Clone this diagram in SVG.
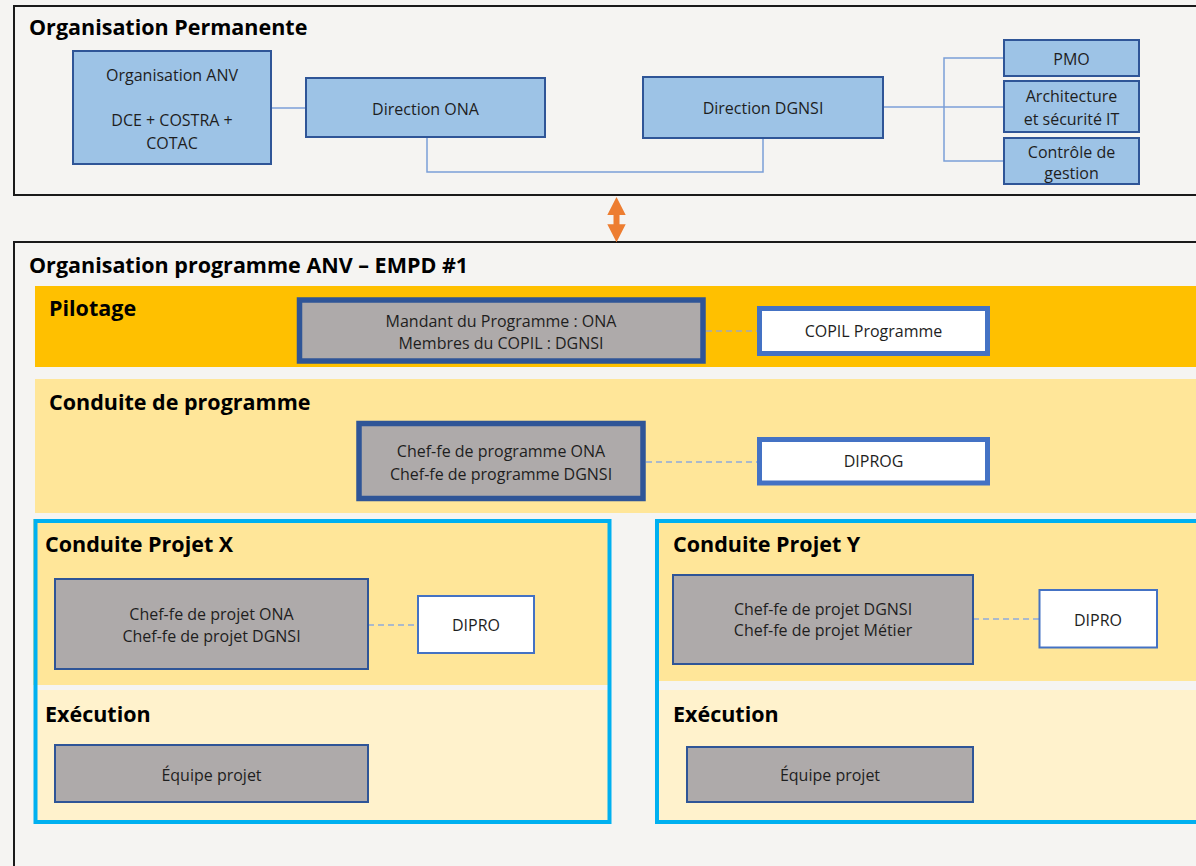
<svg xmlns="http://www.w3.org/2000/svg" width="1196" height="866" viewBox="0 0 1196 866">
<defs>
<style>
.h{font-family:"Open Sans","Liberation Sans",sans-serif;font-weight:bold;font-size:21.5px;fill:#000}
.t{font-family:"Open Sans","Liberation Sans",sans-serif;font-size:16px;fill:#1e1e1e;text-anchor:middle}
.blue{fill:#9dc3e6;stroke:#2f5597;stroke-width:2}
.gray{fill:#aeaaaa;stroke:#2f5597;stroke-width:2}
.grayk{fill:#aeaaaa;stroke:#2f5597;stroke-width:5.5}
.wk{fill:#fff;stroke:#4472c4;stroke-width:5}
.w{fill:#fff;stroke:#4472c4;stroke-width:2}
.frame{fill:none;stroke:#1a1a1a;stroke-width:2}
.cyan{fill:none;stroke:#00b0f0;stroke-width:4}
.ln{fill:none;stroke:#7b9fd8;stroke-width:1.5}
.dash{fill:none;stroke:#8faadc;stroke-width:1.5;stroke-dasharray:6,4}
</style>
</defs>
<rect width="1196" height="866" fill="#f5f4f2"/>

<!-- Section frames and bands -->
<g id="organisation-permanente">
<rect class="frame" x="14" y="6" width="1200" height="189"/>
<text class="h" x="29" y="35">Organisation Permanente</text>
</g>
<g id="organisation-programme">
<rect class="frame" x="14" y="242" width="1200" height="640"/>
<text class="h" x="29" y="273">Organisation programme ANV – EMPD #1</text>
</g>
<g id="pilotage-band">
<rect x="35" y="286" width="1170" height="81" fill="#ffc000"/>
<text class="h" x="49" y="316">Pilotage</text>
</g>
<g id="conduite-programme-band">
<rect x="35" y="379" width="1170" height="134" fill="#ffe699"/>
<text class="h" x="49" y="410">Conduite de programme</text>
</g>
<g id="projet-x">
<rect x="33" y="519" width="578" height="166" fill="#ffe699"/>
<rect x="35" y="690" width="574" height="132" fill="#fff2cc"/>
<rect class="cyan" x="35.5" y="521" width="574" height="301"/>
<text class="h" x="45" y="552">Conduite Projet X</text>
<text class="h" x="45" y="722">Exécution</text>
</g>
<g id="projet-y">
<rect x="655" y="519" width="550" height="162" fill="#ffe699"/>
<rect x="657" y="690" width="548" height="132" fill="#fff2cc"/>
<rect class="cyan" x="657" y="521" width="560" height="301"/>
<text class="h" x="673" y="552">Conduite Projet Y</text>
<text class="h" x="673" y="722">Exécution</text>
</g>

<!-- Connectors -->
<g id="connectors">
<path class="ln" d="M271 108 H306"/>
<path class="ln" d="M427 137 V172 H763 V138"/>
<path class="ln" d="M883 107 H1004"/>
<path class="ln" d="M1004 58 H944 V161 H1004"/>
<path class="dash" d="M706 331 H757" style="stroke:#a3a9b5"/>
<path class="dash" d="M646 462 H757"/>
<path class="dash" d="M368 625 H418"/>
<path class="dash" d="M973 619 H1039"/>
<path fill="#ed7d31" d="M616.5 197 L625.7 215 L619.5 215 L619.5 224.3 L625.7 224.3 L616.5 242.3 L607.3 224.3 L613.5 224.3 L613.5 215 L607.3 215 Z"/>
</g>

<!-- Nodes -->
<g id="organisation-anv">
<rect class="blue" x="73" y="51" width="198" height="113"/>
<text class="t" x="172" y="81">Organisation ANV</text>
<text class="t" x="172" y="125.5">DCE + COSTRA +</text>
<text class="t" x="172" y="148.5">COTAC</text>
</g>
<g id="direction-ona">
<rect class="blue" x="306" y="78" width="239" height="59"/>
<text class="t" x="425.5" y="114.5">Direction ONA</text>
</g>
<g id="direction-dgnsi">
<rect class="blue" x="643" y="77" width="240" height="61"/>
<text class="t" x="763" y="113.5">Direction DGNSI</text>
</g>
<g id="pmo">
<rect class="blue" x="1004" y="40" width="135" height="36"/>
<text class="t" x="1071.5" y="64.5">PMO</text>
</g>
<g id="architecture">
<rect class="blue" x="1004" y="81" width="135" height="51"/>
<text class="t" x="1071.5" y="102">Architecture</text>
<text class="t" x="1071.5" y="124.5">et sécurité IT</text>
</g>
<g id="controle-gestion">
<rect class="blue" x="1004" y="138" width="135" height="46"/>
<text class="t" x="1071.5" y="157.5">Contrôle de</text>
<text class="t" x="1071.5" y="178.5">gestion</text>
</g>
<g id="mandant">
<rect class="grayk" x="299.5" y="300" width="403.5" height="61"/>
<text class="t" x="501" y="326.5">Mandant du Programme : ONA</text>
<text class="t" x="501" y="348.5">Membres du COPIL : DGNSI</text>
</g>
<g id="copil">
<rect class="wk" x="759.5" y="308.5" width="228" height="45"/>
<text class="t" x="873.5" y="337">COPIL Programme</text>
</g>
<g id="chef-programme">
<rect class="grayk" x="359" y="423.5" width="284" height="75"/>
<text class="t" x="501" y="457">Chef-fe de programme ONA</text>
<text class="t" x="501" y="479.5">Chef-fe de programme DGNSI</text>
</g>
<g id="diprog">
<rect class="wk" x="759.5" y="439.5" width="228" height="43.5"/>
<text class="t" x="873.5" y="467">DIPROG</text>
</g>
<g id="chef-projet-x">
<rect class="gray" x="55" y="579" width="313" height="90"/>
<text class="t" x="211.5" y="619.5">Chef-fe de projet ONA</text>
<text class="t" x="211.5" y="642">Chef-fe de projet DGNSI</text>
</g>
<g id="dipro-x">
<rect class="w" x="418" y="596" width="116" height="57"/>
<text class="t" x="476" y="630.5">DIPRO</text>
</g>
<g id="equipe-x">
<rect class="gray" x="55" y="745" width="313" height="57"/>
<text class="t" x="211.5" y="781">Équipe projet</text>
</g>
<g id="chef-projet-y">
<rect class="gray" x="673" y="575" width="300" height="89"/>
<text class="t" x="823" y="614.5">Chef-fe de projet DGNSI</text>
<text class="t" x="823" y="636">Chef-fe de projet Métier</text>
</g>
<g id="dipro-y">
<rect class="w" x="1039.5" y="590" width="117.5" height="57.5"/>
<text class="t" x="1098" y="625.5">DIPRO</text>
</g>
<g id="equipe-y">
<rect class="gray" x="687" y="747" width="286" height="55"/>
<text class="t" x="830" y="781">Équipe projet</text>
</g>
</svg>
